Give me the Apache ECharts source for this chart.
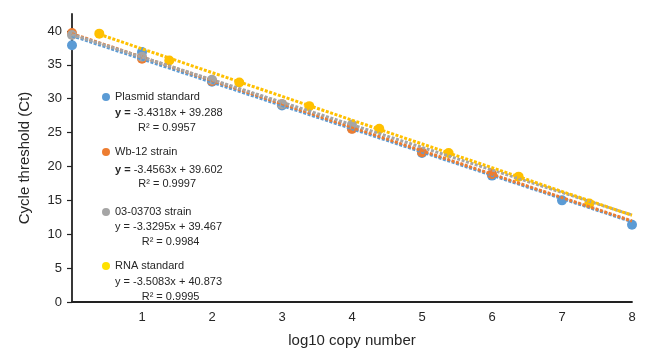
<!DOCTYPE html>
<html>
<head>
<meta charset="utf-8">
<script src="https://cdn.jsdelivr.net/npm/echarts@6/dist/echarts.min.js"></script>
<style>html,body{margin:0;padding:0;background:#fff}#c{width:646px;height:353px}</style>
</head>
<body>
<div id="c"></div>
<script>
// ---- data ----
const seriesNames = ['Plasmid standard', 'Wb-12 strain', '03-03703 strain', 'RNA standard'];
const plasmidX = [0, 1, 2, 3, 4, 5, 6, 7, 8];
const plasmidCt = [37.9, 36.9, 32.5, 29.0, 25.6, 22.0, 18.65, 15.0, 11.4];
const wb12X = [0, 1, 2, 3, 4, 5, 6];
const wb12Ct = [39.7, 35.9, 32.6, 29.2, 25.55, 22.1, 18.9];
const strainX = [0, 1, 2, 3, 4];
const strainCt = [39.4, 36.2, 32.8, 29.2, 26.2];
const rnaX = [0.39, 1.39, 2.39, 3.39, 4.39, 5.38, 6.38, 7.39];
const rnaCt = [39.6, 35.65, 32.4, 28.9, 25.55, 21.98, 18.5, 14.54];
// trendline coefficients (from the equations printed on the chart)
const slopes = [-3.4318, -3.4563, -3.3295, -3.5083];
const intercepts = [39.288, 39.602, 39.467, 40.873];
const r2 = ['0.9957', '0.9997', '0.9984', '0.9995'];
const trendFrom = [0, 0, 0, 0.39];
const trendTo = [8, 8, 8, 8];
const xTicks = [1, 2, 3, 4, 5, 6, 7, 8];
const yTicks = [0, 5, 10, 15, 20, 25, 30, 35, 40];

const colors = ['#5B9BD5', '#ED7D31', '#A5A5A5', '#FFC000'];
const legendIconColors = ['#5B9BD5', '#ED7D31', '#A5A5A5', '#FFE100'];
const FONT = '"Liberation Sans", Arial, sans-serif';
const TXT = '#262626';

const xs = [plasmidX, wb12X, strainX, rnaX];
const ys = [plasmidCt, wb12Ct, strainCt, rnaCt];

const scatterSeries = seriesNames.map((n, i) => ({
  name: n, type: 'scatter', symbol: 'circle', symbolSize: 10, clip: false, z: 2,
  itemStyle: { color: colors[i], opacity: 1 },
  data: xs[i].map((x, j) => [x, ys[i][j]])
}));
const trendSeries = seriesNames.map((n, i) => ({
  name: n + ' trend', type: 'line', showSymbol: false, symbol: 'none', z: 3 + i, silent: true,
  lineStyle: { color: colors[i], width: 3, type: [3, 1.6], cap: 'butt' },
  data: [trendFrom[i], trendTo[i]].map(x => [x, intercepts[i] + slopes[i] * x])
}));

const legendTops = [90, 145, 205, 259];
const legends = seriesNames.map((n, i) => ({
  data: [{ name: n, itemStyle: { color: legendIconColors[i] } }],
  left: 102, top: legendTops[i], padding: 0, orient: 'vertical',
  icon: 'circle', itemWidth: 8, itemHeight: 8, selectedMode: false,
  textStyle: { fontFamily: FONT, fontSize: 11, color: TXT, lineHeight: 14 }
}));

const eqY = [113.3, 170, 227.3, 282.3];
const r2Y = [128.3, 184.3, 242.3, 296.7];
const r2X = [138, 138.3, 141.7, 141.7];
const graphics = [];
seriesNames.forEach((n, i) => {
  const eqText = 'y = ' + slopes[i].toFixed(4) + 'x + ' + intercepts[i].toFixed(3);
  const bold = i < 2;
  graphics.push({
    type: 'text', x: 115, y: eqY[i], silent: true,
    style: {
      text: bold ? '{b|y =} ' + slopes[i].toFixed(4) + 'x + ' + intercepts[i].toFixed(3) : eqText,
      fill: TXT, fontFamily: FONT, fontSize: 11, verticalAlign: 'middle', align: 'left',
      rich: { b: { fontFamily: FONT, fontSize: 11, fontWeight: 'bold', fill: TXT } }
    }
  });
  graphics.push({
    type: 'text', x: r2X[i], y: r2Y[i], silent: true,
    style: { text: 'R² = ' + r2[i], fill: TXT, fontFamily: FONT, fontSize: 11, verticalAlign: 'middle', align: 'left' }
  });
});

const chart = echarts.init(document.getElementById('c'), null, { renderer: 'canvas' });
chart.setOption({
  animation: false,
  backgroundColor: '#fff',
  grid: { left: 72, right: 14, top: 14, bottom: 46, containLabel: false },
  legend: legends,
  graphic: graphics,
  xAxis: {
    type: 'value', min: 0, max: 8, interval: 1,
    name: 'log10 copy number', nameLocation: 'middle', nameGap: 31,
    nameTextStyle: { fontFamily: FONT, fontSize: 15, color: TXT },
    axisLine: { show: true, onZero: false, lineStyle: { color: '#222', width: 1.8 } },
    axisTick: { show: false },
    splitLine: { show: false },
    axisLabel: {
      fontFamily: FONT, fontSize: 13, color: TXT, margin: 9,
      customValues: xTicks
    }
  },
  yAxis: {
    type: 'value', min: 0, max: 42.5, interval: 5,
    name: 'Cycle threshold (Ct)', nameLocation: 'middle', nameGap: 40, nameRotate: 90,
    nameTextStyle: { fontFamily: FONT, fontSize: 15, color: TXT },
    axisLine: { show: true, onZero: false, lineStyle: { color: '#222', width: 1.8 } },
    axisTick: { show: true, inside: false, length: 5, customValues: yTicks, lineStyle: { color: '#222', width: 1.2 } },
    splitLine: { show: false },
    axisLabel: {
      fontFamily: FONT, fontSize: 13, color: TXT, margin: 10,
      customValues: yTicks
    }
  },
  series: scatterSeries.concat(trendSeries)
});
</script>
</body>
</html>
